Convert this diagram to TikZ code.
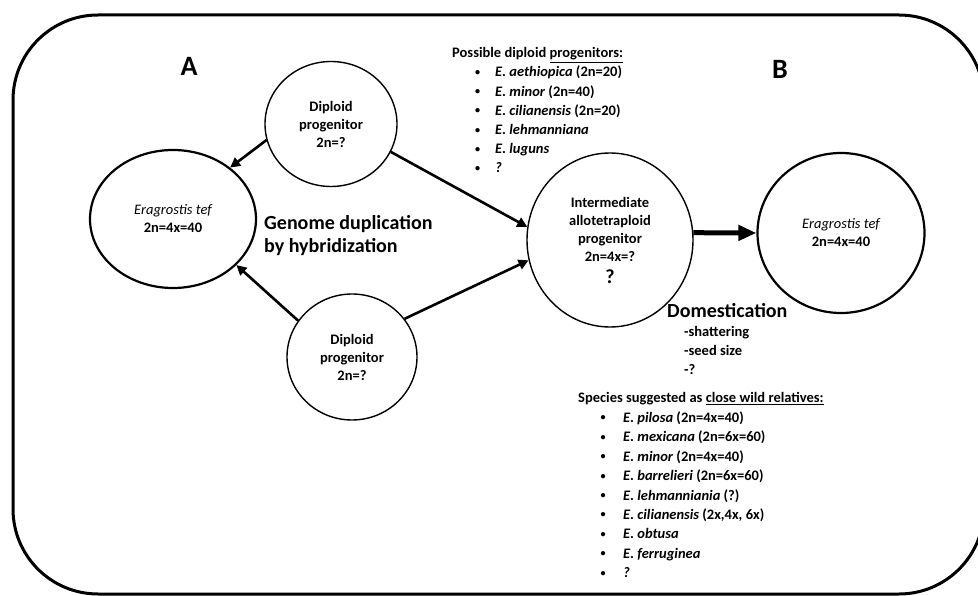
\documentclass[tikz,border=0pt]{standalone}
\usepackage{fontspec}
\usepackage{graphicx}
\setmainfont{Carlito}
\usetikzlibrary{shapes.geometric,arrows.meta}
\newcommand{\listdot}[1]{\makebox[#1][l]{\raisebox{1.4pt}{\scalebox{0.7}{\textbullet}}}}
\tikzset{
  blob/.style={draw, ellipse, line width=1.4pt, inner sep=0pt, align=center, font=\fontsize{14.5}{18}\selectfont\bfseries},
  teffblob/.style={blob, line width=2.2pt},
  arr/.style={line width=2.6pt, -{Triangle[length=10pt,width=10pt]}},
  bigarr/.style={line width=5pt, -{Triangle[length=18pt,width=15pt]}},
  big/.style={anchor=base west, inner sep=0pt, font=\fontsize{20}{23}\selectfont\bfseries},
  small/.style={anchor=base west, inner sep=0pt, font=\fontsize{14.5}{19}\selectfont\bfseries},
  panel/.style={anchor=base, inner sep=0pt, font=\fontsize{28}{32}\selectfont\bfseries},
}
\begin{document}
\begin{tikzpicture}[x=1pt,y=1pt]%
\useasboundingbox (0,0) rectangle (978,595);%
\fill[white] (0,0) rectangle (978,595);%
\begin{scope}%
\clip (0,0) rectangle (978,595);%
\draw[line width=3pt, rounded corners=85pt] (13,1) rectangle (984,580);%
\end{scope}%
% circles
\node[teffblob, minimum width=166pt, minimum height=138pt] (teffA) at (173,376) {{\mdseries\itshape Eragrostis tef}\\2n=4x=40};%
\node[blob, minimum width=132pt, minimum height=125pt] (dtop) at (331,471) {Diploid\\progenitor\\2n=?};%
\node[blob, minimum width=130pt, minimum height=126pt] (dbot) at (352,238) {Diploid\\progenitor\\2n=?};%
\node[blob, minimum width=166pt, minimum height=174pt] (inter) at (610,355) {Intermediate\\allotetraploid\\progenitor\\2n=4x=?\\[4pt]{\fontsize{20}{24}\selectfont ?}};%
\node[teffblob, minimum width=167pt, minimum height=160pt] (teffB) at (841,362) {{\mdseries\itshape Eragrostis tef}\\2n=4x=40};%
% arrows
\draw[arr] (dtop.194) -- (teffA.42);%
\draw[arr] (dtop.-25) -- (inter.171);%
\draw[arr] (dbot.146) -- (teffA.-36);%
\draw[arr] (dbot.36) -- (inter.194);%
\draw[bigarr] (inter.5) -- (teffB.west);%
% labels
\node[panel] (labA) at (189,519) {A};%
\node[panel] (labB) at (780,516) {B};%
\node[big] (genome) at (264,365) {Genome duplication};%
\node[big] (hybrid) at (264,342) {by hybridization};%
\node[big] (domest) at (667,277) {Domestication};%
\node[small] (trait1) at (684,258) {-shattering};%
\node[small] (trait2) at (684,239) {-seed size};%
\node[small] (trait3) at (684,220) {-?};%
% possible diploid progenitors
\node[small] (possHead) at (452,537) {Possible diploid \underline{progenitors:}};%
\node[small] (poss1) at (475,518) {\listdot{20pt}\textit{E. aethiopica} (2n=20)};%
\node[small] (poss2) at (475,498.8) {\listdot{20pt}\textit{E. minor} (2n=40)};%
\node[small] (poss3) at (475,479.6) {\listdot{20pt}\textit{E. cilianensis} (2n=20)};%
\node[small] (poss4) at (475,460.4) {\listdot{20pt}\textit{E. lehmanniana}};%
\node[small] (poss5) at (475,441.2) {\listdot{20pt}\textit{E. luguns}};%
\node[small] (poss6) at (475,422) {\listdot{20pt}\textit{?}};%
% close wild relatives
\node[small] (relHead) at (578,192) {Species suggested as \underline{close wild relatives:}};%
\node[small] (rel1) at (600.4,172.6) {\listdot{22.6pt}\textit{E. pilosa} (2n=4x=40)};%
\node[small] (rel2) at (600.4,153.2) {\listdot{22.6pt}\textit{E. mexicana} (2n=6x=60)};%
\node[small] (rel3) at (600.4,133.8) {\listdot{22.6pt}\textit{E. minor} (2n=4x=40)};%
\node[small] (rel4) at (600.4,114.4) {\listdot{22.6pt}\textit{E. barrelieri} (2n=6x=60)};%
\node[small] (rel5) at (600.4,95) {\listdot{22.6pt}\textit{E. lehmanniania} (?)};%
\node[small] (rel6) at (600.4,75.6) {\listdot{22.6pt}\textit{E. cilianensis} (2x,4x, 6x)};%
\node[small] (rel7) at (600.4,56.2) {\listdot{22.6pt}\textit{E. obtusa}};%
\node[small] (rel8) at (600.4,36.8) {\listdot{22.6pt}\textit{E. ferruginea}};%
\node[small] (rel9) at (600.4,17.4) {\listdot{22.6pt}\textit{?}};%
\end{tikzpicture}
\end{document}
